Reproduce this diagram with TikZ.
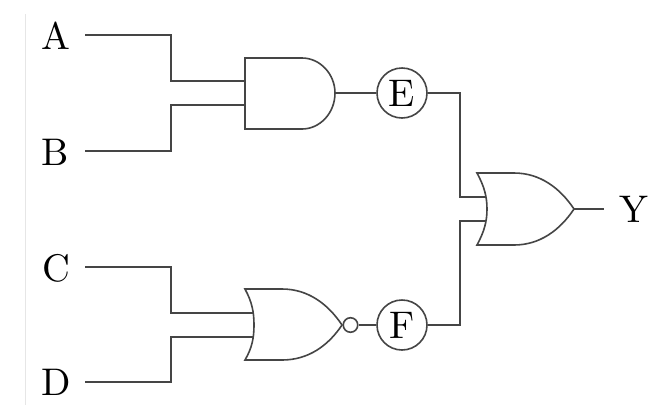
\documentclass[tikz,border=0pt]{standalone}
\usepackage{graphicx}
\newcommand{\biglbl}[1]{\scalebox{3.85}{#1}}
\begin{document}
\begin{tikzpicture}[x=1pt,y=-1pt,
  wire/.style={draw=wirecol,line width=1.6pt,line join=miter},
  gate/.style={draw=wirecol,line width=1.6pt,line join=miter,fill=white},
  lbl/.style={inner sep=0pt,text=black},
  circled/.style={circle,draw=wirecol,line width=1.6pt,minimum size=50pt,inner sep=0pt,text=black},
  bubble/.style={circle,draw=wirecol,line width=1.6pt,minimum size=14.5pt,inner sep=0pt}]
\definecolor{wirecol}{HTML}{454545}
\definecolor{edgecol}{HTML}{E6E6E6}
\useasboundingbox[fill=white] (0,0) rectangle (663,405);
\draw[edgecol,line width=1pt] (25.5,14) -- (25.5,405);
% labels
\node[lbl] (A) at (55.5,36) {\biglbl{A}};
\node[lbl] (B) at (55.5,152) {\biglbl{B}};
\node[lbl] (C) at (56,268) {\biglbl{C}};
\node[lbl] (D) at (56,382) {\biglbl{D}};
\node[lbl] (Y) at (634,209.5) {\biglbl{Y}};
\node[circled] (E) at (402,93) {\biglbl{E}};
\node[circled] (F) at (402,325) {\biglbl{F}};
\node[bubble] (N) at (350.5,325) {};
% wire ends
\coordinate (As) at (85,35);
\coordinate (Bs) at (85,151);
\coordinate (Cs) at (85,267);
\coordinate (Ds) at (85,382);
\coordinate (Ye) at (604,209);
% gate pins
\coordinate (and1) at (245,81);
\coordinate (and2) at (245,105);
\coordinate (ando) at (335,93);
\coordinate (nor1) at (254,313);
\coordinate (nor2) at (254,337);
\coordinate (noro) at (342,325);
\coordinate (or1) at (486,197);
\coordinate (or2) at (486,221);
\coordinate (oro) at (574,209);
% connectors
\draw[wire] (As) -| (171,81) -- (and1);
\draw[wire] (Bs) -| (171,105) -- (and2);
\draw[wire] (Cs) -| (171,313) -- (nor1);
\draw[wire] (Ds) -| (171,337) -- (nor2);
\draw[wire] (ando) -- (E);
\draw[wire] (N) -- (F);
\draw[wire] (E.east) -| (460,197) -- (or1);
\draw[wire] (F.east) -| (460,221) -- (or2);
\draw[wire] (oro) -- (Ye);
% AND gate
\draw[gate,fill=none] (245,58) -- (302,58) .. controls (320,58) and (335,74) .. (ando)
  .. controls (335,113) and (320,129) .. (302,129) -- (245,129) -- cycle;
% OR gate
\draw[gate,fill=none] (477,173) -- (514,173) .. controls (540,173) and (560,188) .. (oro)
  .. controls (560,230) and (540,245) .. (514,245) -- (477,245)
  .. controls (484,232) and (487,222) .. (487,209)
  .. controls (487,196) and (484,186) .. (477,173) -- cycle;
% NOR gate
\draw[gate,fill=none] (245,289) -- (282,289) .. controls (308,289) and (328,304) .. (noro)
  .. controls (328,346) and (308,360) .. (282,360) -- (245,360)
  .. controls (252,348) and (254,338) .. (254,325)
  .. controls (254,312) and (252,302) .. (245,289) -- cycle;
\end{tikzpicture}
\end{document}
